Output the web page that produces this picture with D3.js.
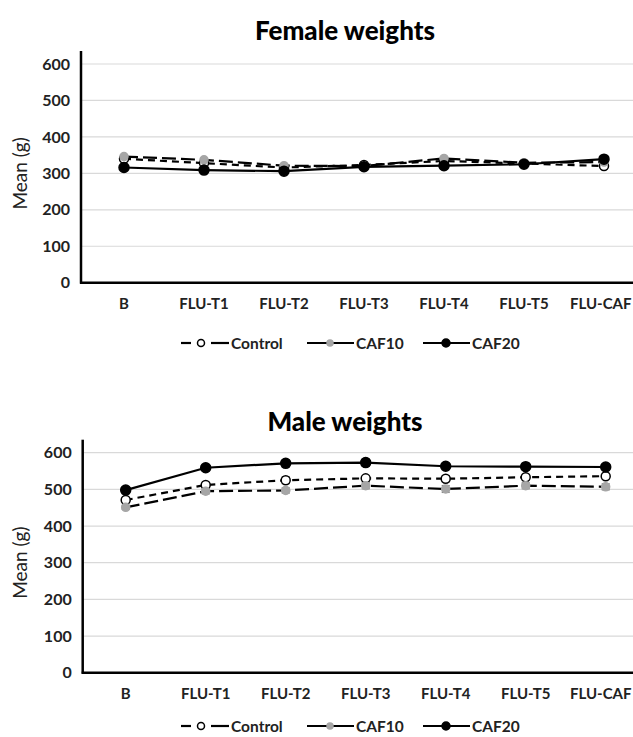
<!DOCTYPE html>
<html>
<head>
<meta charset="utf-8">
<script src="https://cdn.jsdelivr.net/npm/d3@7"></script>
<style>
  body { margin: 0; background: #fff; }
  svg { display: block; }
</style>
</head>
<body>
<div id="chart"></div>
<script>
const categories = ['B', 'FLU-T1', 'FLU-T2', 'FLU-T3', 'FLU-T4', 'FLU-T5', 'FLU-CAF'];
const yTicks = [0, 100, 200, 300, 400, 500, 600];
const seriesNames = ['Control', 'CAF10', 'CAF20'];

const femaleControl = [340, 328, 316, 323, 334, 327, 320];
const femaleCAF10 = [346, 337, 321, 320, 341, 329, 331];
const femaleCAF20 = [316, 309, 306, 318, 321, 325, 339];
const femaleErr = [4, 4, 4, 4, 4, 4, 4];

const maleControl = [471, 512, 525, 530, 529, 533, 536];
const maleCAF10 = [451, 495, 497, 510, 501, 510, 507];
const maleCAF20 = [498, 559, 571, 573, 563, 562, 561];
const maleControlErr = [6, 5, 9, 7, 8, 7, 7];
const maleCAF10Err = [5, 7, 7, 8, 9, 8, 8];
const maleCAF20Err = [4, 5, 9, 10, 5, 4, 4];

const width = 633, height = 737;
const font = 'Lato, "Open Sans", sans-serif';

const svg = d3.select('#chart').append('svg')
  .attr('width', width)
  .attr('height', height);

// look of each series
const styles = {
  Control: { dash: '7,5', fill: '#fff', stroke: '#000', r: 4.5 },
  CAF10: { dash: '14,5', fill: '#a6a6a6', stroke: '#a6a6a6', r: 4 },
  CAF20: { dash: null, fill: '#000', stroke: '#000', r: 5 }
};

function drawChart(opts) {
  const g = svg.append('g');
  const x = d3.scaleBand().domain(categories).range([opts.left + 3, opts.left + 3 + 80 * categories.length]);
  const y = d3.scaleLinear().domain([0, 600]).range([opts.bottom, opts.top]);
  const cx = c => x(c) + x.bandwidth() / 2;

  g.append('text')
    .attr('x', 345).attr('y', opts.titleY)
    .attr('text-anchor', 'middle')
    .style('font', `900 26px ${font}`)
    .attr('fill', '#000')
    .text(opts.title);

  // gridlines
  g.selectAll('.grid').data(yTicks.filter(t => t > 0)).enter()
    .append('line')
    .attr('x1', opts.left).attr('x2', width)
    .attr('y1', d => y(d)).attr('y2', d => y(d))
    .attr('stroke', '#d9d9d9').attr('stroke-width', 1.2);

  // y axis
  const yAxis = g.append('g')
    .attr('transform', `translate(${opts.left},0)`)
    .call(d3.axisLeft(y).tickValues(yTicks).tickSize(0).tickPadding(11));
  yAxis.select('.domain').remove();
  yAxis.selectAll('text')
    .style('font', `bold 16px ${font}`)
    .attr('fill', '#222');

  g.append('line')
    .attr('x1', opts.left).attr('x2', opts.left)
    .attr('y1', opts.top - 13).attr('y2', opts.bottom + 1)
    .attr('stroke', '#000').attr('stroke-width', 2.5);

  // x axis
  const xAxis = g.append('g')
    .attr('transform', `translate(0,${opts.bottom})`)
    .call(d3.axisBottom(x).tickSize(0).tickPadding(16));
  xAxis.select('.domain').remove();
  xAxis.selectAll('text')
    .style('font', `bold 15px ${font}`)
    .attr('fill', '#222');
  // keep the last label inside the page
  xAxis.selectAll('.tick').each(function() {
    const t = d3.select(this);
    const box = this.getBoundingClientRect();
    if (box.right > width - 1) {
      t.select('text').attr('dx', -(box.right - width + 1));
    }
  });
  g.append('line')
    .attr('x1', opts.left - 1).attr('x2', width)
    .attr('y1', opts.bottom).attr('y2', opts.bottom)
    .attr('stroke', '#000').attr('stroke-width', 2.5);

  g.append('text')
    .attr('transform', `translate(27,${(opts.top + opts.bottom) / 2}) rotate(-90)`)
    .attr('text-anchor', 'middle')
    .style('font', `19px ${font}`)
    .attr('fill', '#222')
    .text('Mean (g)');

  const line = d3.line().x((d, i) => cx(categories[i])).y(d => y(d));

  opts.series.forEach(s => {
    const st = styles[s.name];
    // error bars
    s.values.forEach((v, i) => {
      const e = s.err[i], px = cx(categories[i]);
      g.append('line').attr('x1', px).attr('x2', px)
        .attr('y1', y(v - e)).attr('y2', y(v + e))
        .attr('stroke', '#808080').attr('stroke-width', 1.5);
      [v - e, v + e].forEach(w => g.append('line')
        .attr('x1', px - 4).attr('x2', px + 4)
        .attr('y1', y(w)).attr('y2', y(w))
        .attr('stroke', '#808080').attr('stroke-width', 1.5));
    });
    g.append('path')
      .datum(s.values)
      .attr('d', line)
      .attr('fill', 'none')
      .attr('stroke', '#000')
      .attr('stroke-width', 2.2)
      .attr('stroke-dasharray', st.dash);
  });

  opts.series.forEach(s => {
    const st = styles[s.name];
    g.selectAll(null).data(s.values).enter()
      .append('circle')
      .attr('cx', (d, i) => cx(categories[i]))
      .attr('cy', d => y(d))
      .attr('r', st.r)
      .attr('fill', st.fill)
      .attr('stroke', st.stroke)
      .attr('stroke-width', 1.5);
  });

  // legend
  const leg = g.append('g').attr('transform', `translate(0,${opts.legendY})`);
  const legX = [181, 307, 423];
  seriesNames.forEach((name, i) => {
    const st = styles[name];
    const x0 = legX[i];
    if (name === 'Control') {
      leg.append('line').attr('x1', x0).attr('x2', x0 + 10).attr('y1', 0).attr('y2', 0)
        .attr('stroke', '#000').attr('stroke-width', 2.2);
      leg.append('line').attr('x1', x0 + 30).attr('x2', x0 + 48).attr('y1', 0).attr('y2', 0)
        .attr('stroke', '#000').attr('stroke-width', 2.2);
      leg.append('circle').attr('cx', x0 + 20).attr('cy', 0).attr('r', st.r - 1)
        .attr('fill', st.fill).attr('stroke', st.stroke).attr('stroke-width', 1.5);
    } else {
      leg.append('line').attr('x1', x0).attr('x2', x0 + 47).attr('y1', 0).attr('y2', 0)
        .attr('stroke', '#000').attr('stroke-width', 2.2);
      leg.append('circle').attr('cx', x0 + 23).attr('cy', 0).attr('r', st.r - 1)
        .attr('fill', st.fill).attr('stroke', st.stroke).attr('stroke-width', 1.5);
    }
    leg.append('text')
      .attr('x', x0 + (name === 'Control' ? 50 : 49)).attr('y', 5.5)
      .style('font', `bold 15.5px ${font}`)
      .attr('fill', '#222')
      .text(name);
  });
}

drawChart({
  title: 'Female weights', titleY: 40,
  left: 81, top: 64, bottom: 282.7, legendY: 343,
  series: [
    { name: 'Control', values: femaleControl, err: femaleErr },
    { name: 'CAF10', values: femaleCAF10, err: femaleErr },
    { name: 'CAF20', values: femaleCAF20, err: femaleErr }
  ]
});

drawChart({
  title: 'Male weights', titleY: 431,
  left: 82.7, top: 452.7, bottom: 672.7, legendY: 726,
  series: [
    { name: 'Control', values: maleControl, err: maleControlErr },
    { name: 'CAF10', values: maleCAF10, err: maleCAF10Err },
    { name: 'CAF20', values: maleCAF20, err: maleCAF20Err }
  ]
});
</script>
</body>
</html>
